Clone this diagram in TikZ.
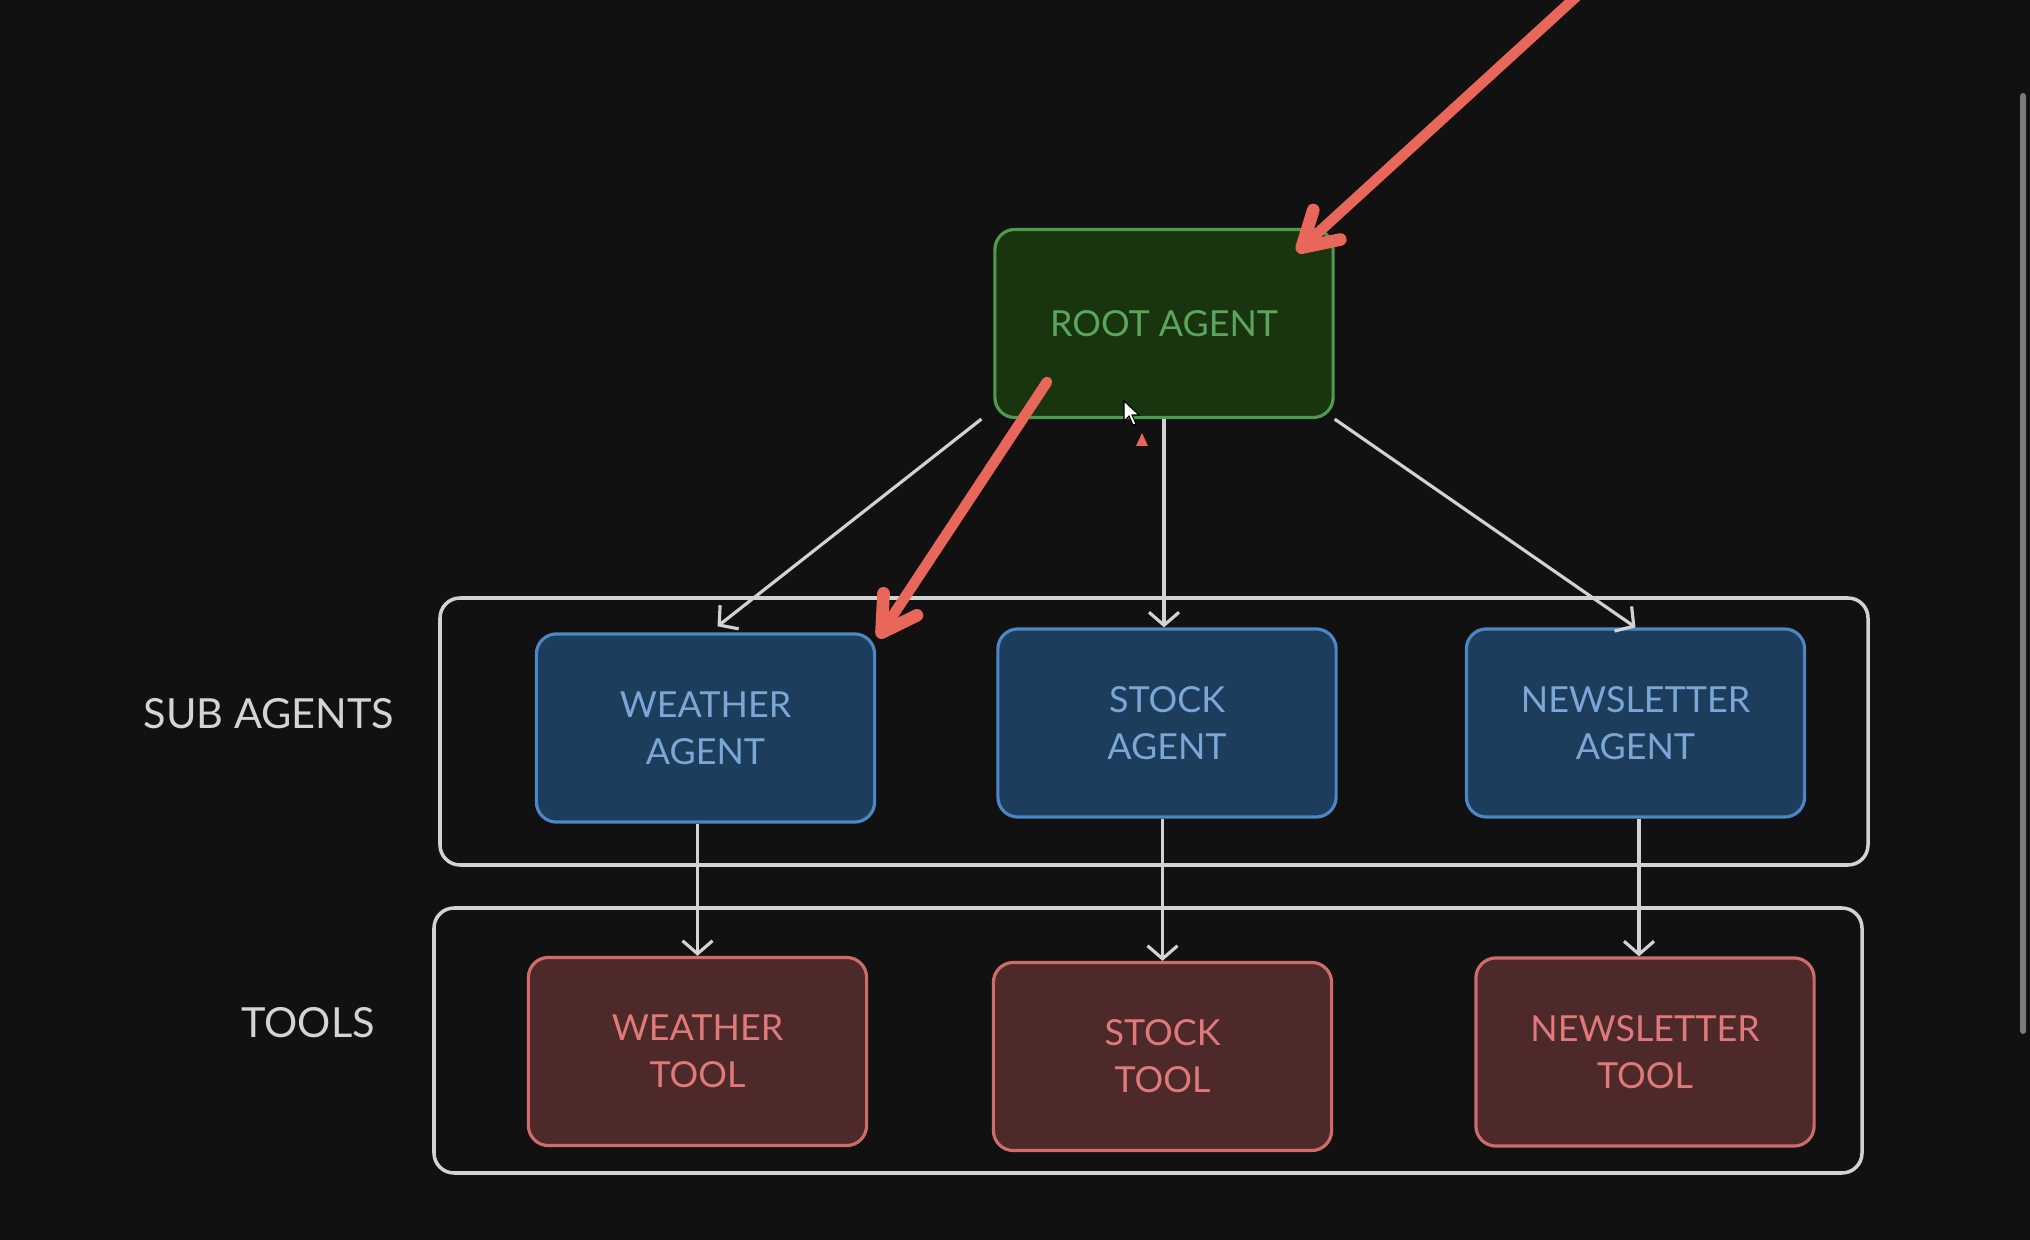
\documentclass[tikz,border=0pt]{standalone}
\usepackage{fontspec}
\setmainfont{Lato}
\usetikzlibrary{arrows.meta}

\definecolor{bg}{HTML}{111111}
\definecolor{frame}{HTML}{D2D2D2}
\definecolor{rootfill}{HTML}{183510}
\definecolor{rootline}{HTML}{4E9A4E}
\definecolor{roottext}{HTML}{5CA55C}
\definecolor{agentfill}{HTML}{1D3D5C}
\definecolor{agentline}{HTML}{4C86C4}
\definecolor{agenttext}{HTML}{7AA7D6}
\definecolor{toolfill}{HTML}{4D2929}
\definecolor{toolline}{HTML}{CF6B6B}
\definecolor{tooltext}{HTML}{E07A7A}
\definecolor{penred}{HTML}{E8665A}
\definecolor{scroll}{HTML}{7A7A7A}

\begin{document}
\begin{tikzpicture}[x=0.01cm,y=-0.01cm,
    box/.style={draw,rounded corners=0.2cm,line width=0.9pt,minimum width=3.38cm,
      minimum height=1.88cm,align=center,inner sep=0pt,
      font=\fontsize{10.2}{13.4}\selectfont},
    rootbox/.style={box,fill=rootfill,draw=rootline,text=roottext},
    agentbox/.style={box,fill=agentfill,draw=agentline,text=agenttext},
    toolnode/.style={box,fill=toolfill,draw=toolline,text=tooltext},
    groupframe/.style={draw=frame,line width=1pt,rounded corners=0.2cm},
    grouplabel/.style={text=frame!95!white,font=\fontsize{11.8}{14}\selectfont,inner sep=0pt},
    link/.style={draw=frame,line width=0.9pt,-{Straight Barb[length=0.13cm,width=0.3cm]}},
    redpen/.style={draw=penred,line width=3pt,line cap=round,line join=round,
      -{Straight Barb[length=0.34cm,width=0.4cm,round,line width=3.6pt]}}]
        % background and page margins
        \fill[bg] (0,0) rectangle (2030,1240);
        \useasboundingbox (0,0) rectangle (2030,1240);
        \fill[scroll,rounded corners=0.03cm] (2020,93) rectangle (2026,1034);

        % group frames
        \draw[groupframe] (440,598) rectangle (1868,865);
        \draw[groupframe] (434,908) rectangle (1862,1173);
        \node[grouplabel] (sublabel) at (269,714) {SUB AGENTS};
        \node[grouplabel] (toollabel) at (308,1023) {TOOLS};

        % agents
        \node[rootbox] (root) at (1164,323.5) {ROOT AGENT};
        \node[agentbox] (wagent) at (705.5,728) {WEATHER\\AGENT};
        \node[agentbox] (sagent) at (1167,723) {STOCK\\AGENT};
        \node[agentbox] (nagent) at (1635.5,723) {NEWSLETTER\\AGENT};

        % tools
        \node[toolnode] (wtool) at (697.5,1051.5) {WEATHER\\TOOL};
        \node[toolnode] (stool) at (1162.5,1056.5) {STOCK\\TOOL};
        \node[toolnode] (ntool) at (1645,1052) {NEWSLETTER\\TOOL};

        % root to sub agents
        \draw[link] ([xshift=-0.12cm]root.south west) -- ([xshift=0.12cm,yshift=0.06cm]wagent.north);
        \draw[link] (root.south) -- (root.south |- sagent.north);
        \draw[link] (root.south east) -- (nagent.north);

        % sub agents to tools
        \draw[link] (wtool.north |- wagent.south) -- (wtool.north);
        \draw[link] (stool.north |- sagent.south) -- (stool.north);
        \draw[link] ([xshift=0.035cm]nagent.south) -- ([xshift=0.035cm]nagent.south |- ntool.north);

        % red pen marks
        \coordinate (pentop) at (1577,-4);
        \coordinate (pentip) at (1297,252);
        \coordinate (penstart) at (1047,382);
        \coordinate (penend) at (878,638);
        \draw[redpen] (pentop) -- (pentip);
        \draw[redpen] (penstart) -- (penend);

        % mouse pointer
        \filldraw[fill=white,draw=black,line width=0.3pt]
          (1124,401) -- (1124,421) -- (1129,416) -- (1133,425) -- (1136,424)
          -- (1132,415) -- (1139,415) -- cycle;
        \fill[penred] (1142,433) -- (1136,446) -- (1148,446) -- cycle;
\end{tikzpicture}
\end{document}
